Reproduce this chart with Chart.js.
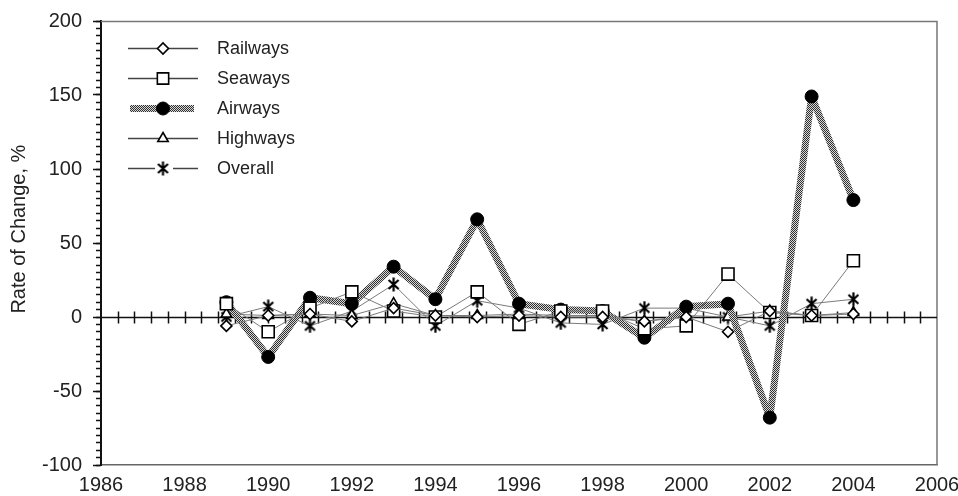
<!DOCTYPE html>
<html><head><meta charset="utf-8">
<script src="https://cdn.jsdelivr.net/npm/chart.js@4/dist/chart.umd.min.js"></script>
<style>html,body{margin:0;padding:0;background:#fff}#wrap{width:958px;height:496px}</style>
</head><body><div id="wrap"><canvas id="c" width="958" height="496"></canvas></div>
<script>
// ---- data ----
const years    = [1989,1990,1991,1992,1993,1994,1995,1996,1997,1998,1999,2000,2001,2002,2003,2004];
const railways = [  -6,   1,   2,  -3,   6,   1,   0,   1,   0,   0,  -3,   0, -10,   4,   1,   2];
const seaways  = [   9, -10,   6,  17,   4,   0,  17,  -5,   4,   4,  -8,  -6,  29,   3,   1,  38];
const airways  = [  10, -27,  13,   9,  34,  12,  66,   9,   5,   4, -14,   7,   9, -68, 149,  79];
const highways = [   2,   1,   2,   1,   9,   1,   1,   2,   1,   1,  -3,   1,   0,   4,   1,   3];
const overall  = [   0,   7,  -6,   4,  22,  -6,  11,   6,  -4,  -5,   6,   6,   0,  -6,   9,  12];
const xTickLabels = [1986,1988,1990,1992,1994,1996,1998,2000,2002,2004,2006];
const yTickLabels = [-100,-50,0,50,100,150,200];
const yMinorStep = 5;
const zeroAxisTickStep = 0.4;
const seriesNames = ['Railways','Seaways','Airways','Highways','Overall'];
const yTitle = 'Rate of Change, %';

const FONT = '"Liberation Sans", Arial, Helvetica, sans-serif';
const TXT = '#222';

function pts(vals){ return years.map((yr,i)=>({x:yr,y:vals[i]})); }

// star marker: X with vertical bar
function makeStar(){
  const c=document.createElement('canvas'); c.width=15; c.height=15;
  const g=c.getContext('2d'); g.strokeStyle='#000'; g.lineWidth=2.2;
  g.beginPath(); g.moveTo(2.5,3); g.lineTo(12.5,12); g.moveTo(12.5,3); g.lineTo(2.5,12);
  g.moveTo(7.5,0.5); g.lineTo(7.5,14.5); g.stroke();
  return c;
}
const star = makeStar();

const canvas = document.getElementById('c');
const ctx0 = canvas.getContext('2d');
const pc=document.createElement('canvas'); pc.width=2; pc.height=2;
const pg=pc.getContext('2d');
pg.fillStyle='#d8d8d8'; pg.fillRect(0,0,2,2);
pg.fillStyle='#303030'; pg.fillRect(0,0,1,1); pg.fillRect(1,1,1,1);
const hatch = ctx0.createPattern(pc,'repeat');

const thin = {borderColor:'#7a7a7a', borderWidth:1, pointBorderColor:'#000', pointBackgroundColor:'#fff', pointBorderWidth:1.6, tension:0};

const datasets = [
  Object.assign({label:seriesNames[0], data:pts(railways), pointStyle:'rectRot', pointRadius:5.5}, thin),
  Object.assign({label:seriesNames[1], data:pts(seaways), pointStyle:'rect', pointRadius:8.5}, thin),
  {label:seriesNames[2], data:pts(airways), pointStyle:'circle', pointRadius:6.5, borderColor:hatch, borderWidth:7,
   borderJoinStyle:'round', pointBackgroundColor:'#000', pointBorderColor:'#000', pointBorderWidth:1, tension:0},
  Object.assign({label:seriesNames[3], data:pts(highways), pointStyle:'triangle', pointRadius:6}, thin),
  Object.assign({label:seriesNames[4], data:pts(overall), pointStyle:star, pointRadius:7, legendGap:true}, thin)
];

const framePlugin = {
  id:'frame',
  beforeDatasetsDraw(chart){
    const {ctx, chartArea:a, scales:{x,y}} = chart;
    ctx.save();
    ctx.strokeStyle='#777'; ctx.lineWidth=1.5;
    ctx.beginPath(); ctx.moveTo(a.left,a.top+0.5); ctx.lineTo(a.right,a.top+0.5); ctx.lineTo(a.right,a.bottom); ctx.stroke();
    const yz = Math.round(y.getPixelForValue(0))+0.5;
    ctx.strokeStyle='#111'; ctx.lineWidth=1.5;
    ctx.beginPath(); ctx.moveTo(a.left,yz); ctx.lineTo(a.right,yz);
    const n = Math.round((x.max-x.min)/zeroAxisTickStep);
    for(let k=1;k<n;k++){
      const px = Math.round(x.getPixelForValue(x.min+k*zeroAxisTickStep))+0.5;
      ctx.moveTo(px,yz-6); ctx.lineTo(px,yz+6);
    }
    ctx.stroke();
    ctx.restore();
  }
};

const legendPlugin = {
  id:'lineLegend',
  afterDraw(chart){
    const ctx=chart.ctx;
    const x0=128, x1=198, xm=163, tx=217, y0=48, dy=30;
    chart.data.datasets.forEach((ds,i)=>{
      const y=y0+i*dy+0.5;
      ctx.save();
      ctx.beginPath();
      if(ds.borderWidth>3){
        ctx.strokeStyle=ds.borderColor; ctx.lineWidth=ds.borderWidth;
        ctx.moveTo(x0+2,y); ctx.lineTo(x1-4,y);
      } else {
        ctx.strokeStyle='#444'; ctx.lineWidth=1.5;
        if(ds.legendGap){ ctx.moveTo(x0,y); ctx.lineTo(xm-8,y); ctx.moveTo(xm+10,y); ctx.lineTo(x1,y); }
        else { ctx.moveTo(x0,y); ctx.lineTo(x1,y); }
      }
      ctx.stroke();
      ctx.fillStyle=ds.pointBackgroundColor; ctx.strokeStyle=ds.pointBorderColor; ctx.lineWidth=ds.pointBorderWidth;
      const r = ds.pointStyle==='rect' ? 8 : ds.pointRadius;
      Chart.helpers.drawPoint(ctx,{pointStyle:ds.pointStyle, radius:r, borderWidth:ds.pointBorderWidth, rotation:0}, xm, y);
      ctx.fillStyle=TXT; ctx.font='18px '+FONT; ctx.textBaseline='middle'; ctx.textAlign='left';
      ctx.fillText(ds.label, tx, y+1);
      ctx.restore();
    });
  }
};

new Chart(canvas, {
  type:'line',
  data:{datasets},
  plugins:[framePlugin, legendPlugin],
  options:{
    responsive:false, animation:false,
    layout:{padding:{top:21, right:21, left:0, bottom:0}},
    plugins:{legend:{display:false}, tooltip:{enabled:false}},
    scales:{
      x:{type:'linear', position:'bottom', min:1986, max:2006,
         afterBuildTicks(s){ s.ticks = xTickLabels.map(v=>({value:v})); },
         ticks:{font:{family:FONT,size:20}, color:TXT, padding:0, maxRotation:0, autoSkip:false,
                callback:v=>String(v)},
         grid:{display:false},
         border:{display:true, color:'#666', width:1.5},
         afterFit(s){ s.height=31; s.paddingLeft=0; s.paddingRight=0; }
      },
      y:{type:'linear', position:'left', min:-100, max:200, weight:1,
         ticks:{stepSize:yMinorStep, autoSkip:false, font:{family:FONT,size:20}, color:TXT, padding:14,
                callback:v=> yTickLabels.includes(v) ? String(v) : ''},
         grid:{display:true, drawOnChartArea:false, drawTicks:true, tickLength:5, color:'#111', tickWidth:1.5},
         border:{display:true, color:'#111', width:2},
         title:{display:true, text:'     '+yTitle, font:{family:FONT,size:20}, color:TXT, padding:{top:7,bottom:0}},
         afterFit(s){ s.width=101; s.paddingTop=0; s.paddingBottom=0; }
      },
      yMajor:{type:'linear', position:'left', min:-100, max:200, weight:0,
         afterBuildTicks(s){ s.ticks = yTickLabels.map(v=>({value:v})); },
         ticks:{display:false},
         grid:{display:true, drawOnChartArea:false, drawTicks:true, tickLength:8, color:'#111', tickWidth:1.5},
         border:{display:false},
         afterFit(s){ s.width=0; s.paddingTop=0; s.paddingBottom=0; }
      }
    }
  }
});
</script></body></html>
